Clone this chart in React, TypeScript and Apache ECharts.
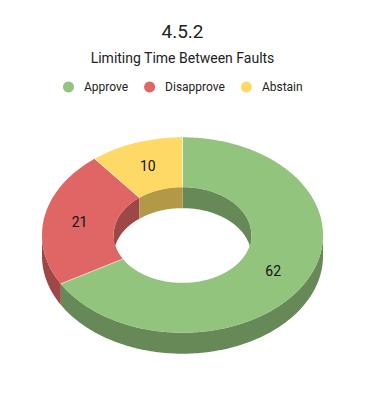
import React, { useEffect, useRef } from 'react';
import * as echarts from 'echarts';

const categories = ['Approve', 'Disapprove', 'Abstain'];
const values = [62, 21, 10];
const titleText = '4.5.2';
const subtitleText = 'Limiting Time Between Faults';

const topColors = ['#93c47d', '#e06666', '#ffd966'];
const sideColors = ['#678958', '#9d4747', '#b39847'];

const RX = 140.5;
const RY = 97.7;
const CY = 235;
const INNER = 0.49;
const DEPTH = 21;
const DEG = Math.PI / 180;

function sliceAngles() {
  const total = values.reduce((a, b) => a + b, 0);
  const res: [number, number][] = [];
  let acc = 0;
  for (const v of values) {
    const a0 = (acc / total) * Math.PI * 2;
    acc += v;
    const a1 = (acc / total) * Math.PI * 2;
    res.push([a0, a1]);
  }
  return res;
}

function pt(cx: number, phi: number, r: number, dy: number): number[] {
  return [cx + r * RX * Math.sin(phi), CY - r * RY * Math.cos(phi) + dy];
}

function arc(cx: number, a0: number, a1: number, r: number, dy: number): number[][] {
  const n = Math.max(2, Math.ceil(Math.abs(a1 - a0) / DEG));
  const out: number[][] = [];
  for (let k = 0; k <= n; k++) {
    out.push(pt(cx, a0 + ((a1 - a0) * k) / n, r, dy));
  }
  return out;
}

function band(cx: number, a0: number, a1: number, r: number): number[][] {
  const top = arc(cx, a0, a1, r, 0);
  const bot = arc(cx, a0, a1, r, DEPTH).reverse();
  return top.concat(bot);
}

function intersect(a0: number, a1: number, b0: number, b1: number): [number, number] | null {
  const s = Math.max(a0, b0);
  const e = Math.min(a1, b1);
  return e > s ? [s, e] : null;
}

export default function App() {
  const ref = useRef<HTMLDivElement>(null);
  useEffect(() => {
    document.body.style.margin = '0';
    if (!ref.current) return;
    const chart = echarts.init(ref.current, undefined, { renderer: 'svg' });
    const angles = sliceAngles();

    const wallSeries: any = {
      type: 'custom',
      name: '__walls',
      coordinateSystem: 'none',
      z: 1,
      silent: true,
      data: values.map((v) => [v]),
      renderItem: (params: any, api: any) => {
        const i = params.dataIndex;
        const cx = api.getWidth() / 2;
        const [a0, a1] = angles[i];
        const children: any[] = [];
        const front = intersect(a0, a1, Math.PI / 2, (3 * Math.PI) / 2);
        if (front) {
          children.push({
            type: 'polygon',
            shape: { points: band(cx, front[0], front[1], 1) },
            style: { fill: sideColors[i] },
          });
        }
        const backs = [
          intersect(a0, a1, 0, Math.PI / 2),
          intersect(a0, a1, (3 * Math.PI) / 2, 2 * Math.PI),
        ];
        for (const b of backs) {
          if (b) {
            children.push({
              type: 'polygon',
              shape: { points: band(cx, b[0], b[1], INNER) },
              style: { fill: sideColors[i] },
            });
          }
        }
        return { type: 'group', children };
      },
    };

    const topSeries: any[] = categories.map((name, i) => ({
      type: 'custom',
      name,
      coordinateSystem: 'none',
      z: 2,
      itemStyle: { color: topColors[i] },
      data: [[values[i]]],
      renderItem: (params: any, api: any) => {
        const cx = api.getWidth() / 2;
        const [a0, a1] = angles[i];
        const outer = arc(cx, a0, a1, 1, 0);
        const inner = arc(cx, a0, a1, INNER, 0).reverse();
        const mid = (a0 + a1) / 2;
        const lp = pt(cx, mid, (1 + INNER) / 2, 0);
        const e0 = pt(cx, a0, INNER, 0);
        const e1 = pt(cx, a0, 1, 0);
        return {
          type: 'group',
          children: [
            {
              type: 'polygon',
              shape: { points: outer.concat(inner) },
              style: { fill: topColors[i] },
            },
            {
              type: 'line',
              shape: { x1: e0[0], y1: e0[1], x2: e1[0], y2: e1[1] },
              style: { stroke: 'rgba(255,255,255,0.55)', lineWidth: 1 },
              z2: 5,
            },
            {
              type: 'text',
              x: lp[0],
              y: lp[1],
              z2: 10,
              style: {
                text: String(api.value(0)),
                fill: '#111111',
                fontSize: 14,
                fontFamily: 'Roboto',
                align: 'center',
                verticalAlign: 'middle',
              },
            },
          ],
        };
      },
    }));

    chart.setOption({
      animation: false,
      title: [
        {
          text: titleText,
          left: 'center',
          top: 16,
          padding: 0,
          textStyle: { fontSize: 19, fontWeight: 'normal', color: '#222222', fontFamily: 'Roboto', lineHeight: 30 },
        },
        {
          text: subtitleText,
          left: 'center',
          top: 50,
          padding: 0,
          textStyle: { fontSize: 14, fontWeight: 'normal', color: '#222222', fontFamily: 'Roboto', lineHeight: 16 },
        },
      ],
      legend: {
        data: categories,
        left: 63,
        top: 81,
        padding: 0,
        icon: 'circle',
        itemWidth: 11,
        itemHeight: 11,
        itemGap: 16,
        textStyle: { fontSize: 12, color: '#222222', fontFamily: 'Roboto', padding: [0, 0, 0, 5] },
      },
      series: [wallSeries, ...topSeries],
    });
    return () => chart.dispose();
  }, []);
  return <div ref={ref} style={{ width: 365, height: 405 }} />;
}
